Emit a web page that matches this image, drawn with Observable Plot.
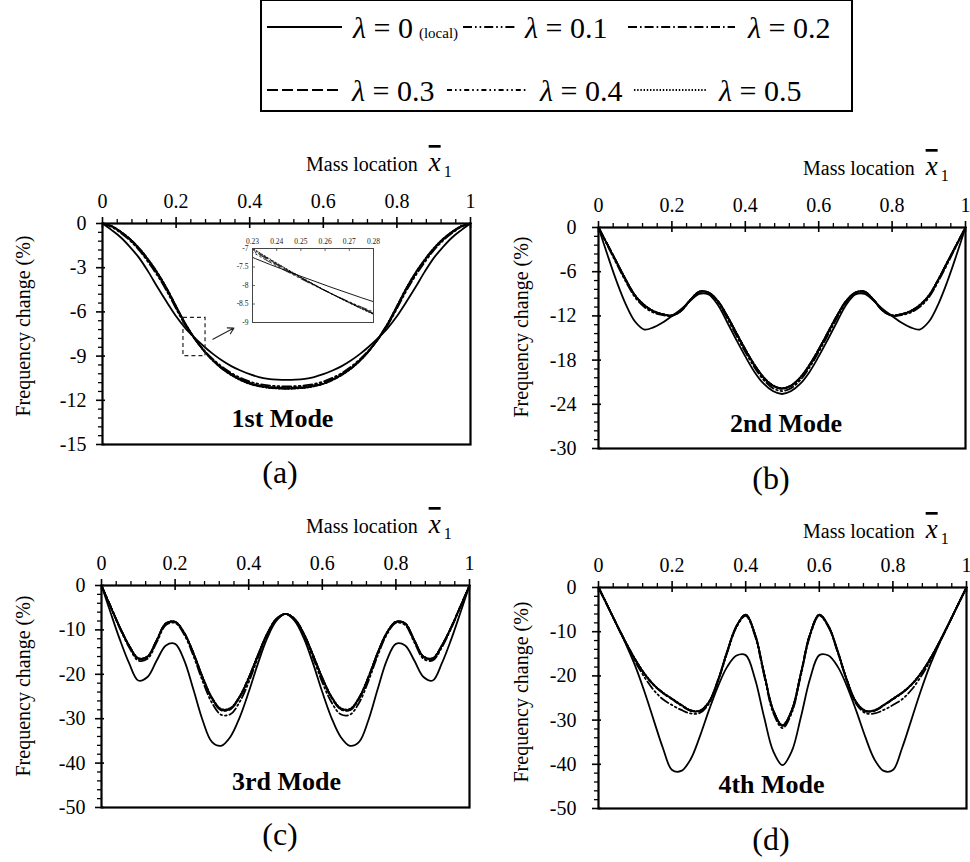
<!DOCTYPE html>
<html>
<head>
<meta charset="utf-8">
<script src="https://cdn.jsdelivr.net/npm/d3@7"></script>
<script src="https://cdn.jsdelivr.net/npm/@observablehq/plot@0.6"></script>
<style>
  html, body { margin: 0; padding: 0; background: #fff; }
  #root { position: relative; width: 970px; height: 862px; overflow: hidden; background: #fff; color: #000; }
  #root svg { position: absolute; }
</style>
</head>
<body>
<div id="root"></div>
<script>
// Non-dimensional mass location along the beam
const massLocation = [0, 0.025, 0.05, 0.075, 0.1, 0.125, 0.15, 0.175, 0.2, 0.225, 0.25, 0.275, 0.3, 0.325, 0.35, 0.375, 0.4, 0.425, 0.45, 0.475, 0.5, 0.525, 0.55, 0.575, 0.6, 0.625, 0.65, 0.675, 0.7, 0.725, 0.75, 0.775, 0.8, 0.825, 0.85, 0.875, 0.9, 0.925, 0.95, 0.975, 1];

// Nonlocal parameter values of the series (0 = local theory)
const lambdaValues = ["0", "0.1", "0.2", "0.3", "0.4", "0.5"];

// Frequency change (%) — 1st mode
const mode1Local = [0, -0.45, -0.95, -1.6, -2.35, -3.3, -4.35, -5.35, -6.3, -7.1, -7.75, -8.33, -8.85, -9.3, -9.68, -9.98, -10.23, -10.42, -10.54, -10.6, -10.62, -10.6, -10.54, -10.42, -10.23, -9.98, -9.68, -9.3, -8.85, -8.33, -7.75, -7.1, -6.3, -5.35, -4.35, -3.3, -2.35, -1.6, -0.95, -0.45, 0];
const mode1L01 = [0, -0.23, -0.65, -1.17, -1.83, -2.65, -3.56, -4.6, -5.78, -6.9, -7.82, -8.58, -9.2, -9.73, -10.15, -10.48, -10.73, -10.89, -10.99, -11.04, -11.06, -11.04, -10.99, -10.89, -10.73, -10.48, -10.15, -9.73, -9.2, -8.58, -7.82, -6.9, -5.78, -4.6, -3.56, -2.65, -1.83, -1.17, -0.65, -0.23, 0];
const mode1L02 = [0, -0.2, -0.6, -1.1, -1.75, -2.55, -3.45, -4.5, -5.7, -6.85, -7.8, -8.6, -9.25, -9.8, -10.22, -10.56, -10.82, -10.98, -11.08, -11.13, -11.15, -11.13, -11.08, -10.98, -10.82, -10.56, -10.22, -9.8, -9.25, -8.6, -7.8, -6.85, -5.7, -4.5, -3.45, -2.55, -1.75, -1.1, -0.6, -0.2, 0];
const mode1L03 = [0, -0.19, -0.58, -1.08, -1.72, -2.51, -3.41, -4.46, -5.66, -6.82, -7.79, -8.61, -9.28, -9.83, -10.25, -10.59, -10.85, -11.01, -11.11, -11.16, -11.18, -11.16, -11.11, -11.01, -10.85, -10.59, -10.25, -9.83, -9.28, -8.61, -7.79, -6.82, -5.66, -4.46, -3.41, -2.51, -1.72, -1.08, -0.58, -0.19, 0];
const mode1L04 = [0, -0.18, -0.57, -1.06, -1.7, -2.48, -3.38, -4.43, -5.63, -6.8, -7.78, -8.62, -9.3, -9.85, -10.27, -10.61, -10.87, -11.03, -11.13, -11.18, -11.2, -11.18, -11.13, -11.03, -10.87, -10.61, -10.27, -9.85, -9.3, -8.62, -7.78, -6.8, -5.63, -4.43, -3.38, -2.48, -1.7, -1.06, -0.57, -0.18, 0];
const mode1L05 = [0, -0.18, -0.56, -1.05, -1.68, -2.46, -3.36, -4.41, -5.61, -6.78, -7.77, -8.63, -9.31, -9.86, -10.29, -10.63, -10.89, -11.05, -11.15, -11.2, -11.22, -11.2, -11.15, -11.05, -10.89, -10.63, -10.29, -9.86, -9.31, -8.63, -7.77, -6.78, -5.61, -4.41, -3.36, -2.46, -1.68, -1.05, -0.56, -0.18, 0];

// Frequency change (%) — 2nd mode
const mode2Local = [0, -3.8, -7.4, -10.5, -12.8, -13.85, -13.55, -12.9, -12.0, -11.1, -9.95, -9.0, -9.1, -10.5, -12.8, -15.2, -17.5, -19.6, -21.2, -22.2, -22.6, -22.2, -21.2, -19.6, -17.5, -15.2, -12.8, -10.5, -9.1, -9.0, -9.95, -11.1, -12.0, -12.9, -13.55, -13.85, -12.8, -10.5, -7.4, -3.8, 0];
const mode2L01 = [0, -2.5, -5.0, -7.4, -9.5, -10.8, -11.55, -11.9, -12.0, -11.35, -9.9, -8.78, -8.9, -10.15, -12.25, -14.6, -16.9, -19.0, -20.7, -21.8, -22.2, -21.8, -20.7, -19.0, -16.9, -14.6, -12.25, -10.15, -8.9, -8.78, -9.9, -11.35, -12.0, -11.9, -11.55, -10.8, -9.5, -7.4, -5.0, -2.5, 0];
const mode2L02 = [0, -2.4, -4.8, -7.2, -9.3, -10.6, -11.4, -11.8, -11.95, -11.3, -9.85, -8.72, -8.85, -10.0, -12.0, -14.3, -16.6, -18.7, -20.4, -21.5, -21.9, -21.5, -20.4, -18.7, -16.6, -14.3, -12.0, -10.0, -8.85, -8.72, -9.85, -11.3, -11.95, -11.8, -11.4, -10.6, -9.3, -7.2, -4.8, -2.4, 0];
const mode2L03 = [0, -2.38, -4.77, -7.17, -9.27, -10.57, -11.37, -11.78, -11.94, -11.29, -9.84, -8.71, -8.84, -9.98, -11.97, -14.27, -16.57, -18.67, -20.37, -21.47, -21.87, -21.47, -20.37, -18.67, -16.57, -14.27, -11.97, -9.98, -8.84, -8.71, -9.84, -11.29, -11.94, -11.78, -11.37, -10.57, -9.27, -7.17, -4.77, -2.38, 0];
const mode2L04 = [0, -2.36, -4.74, -7.14, -9.24, -10.54, -11.35, -11.76, -11.93, -11.28, -9.83, -8.7, -8.83, -9.96, -11.94, -14.24, -16.54, -18.64, -20.34, -21.44, -21.84, -21.44, -20.34, -18.64, -16.54, -14.24, -11.94, -9.96, -8.83, -8.7, -9.83, -11.28, -11.93, -11.76, -11.35, -10.54, -9.24, -7.14, -4.74, -2.36, 0];
const mode2L05 = [0, -2.34, -4.71, -7.11, -9.21, -10.51, -11.33, -11.75, -11.92, -11.27, -9.82, -8.69, -8.82, -9.94, -11.91, -14.21, -16.51, -18.61, -20.31, -21.41, -21.81, -21.41, -20.31, -18.61, -16.51, -14.21, -11.91, -9.94, -8.82, -8.69, -9.82, -11.27, -11.92, -11.75, -11.33, -10.51, -9.21, -7.11, -4.71, -2.34, 0];

// Frequency change (%) — 3rd mode
const mode3Local = [0, -6.2, -12.2, -17.5, -21.4, -20.6, -16.9, -13.5, -13.15, -16.9, -23.5, -30.4, -35.2, -36.1, -34.1, -29.8, -24.0, -17.6, -11.9, -8.0, -6.4, -8.0, -11.9, -17.6, -24.0, -29.8, -34.1, -36.1, -35.2, -30.4, -23.5, -16.9, -13.15, -13.5, -16.9, -20.6, -21.4, -17.5, -12.2, -6.2, 0];
const mode3L01 = [0, -4.9, -9.7, -13.9, -16.9, -16.5, -12.8, -8.9, -8.45, -11.1, -15.9, -21.6, -26.4, -29.1, -29.0, -26.3, -21.8, -16.3, -11.3, -7.7, -6.4, -7.7, -11.3, -16.3, -21.8, -26.3, -29.0, -29.1, -26.4, -21.6, -15.9, -11.1, -8.45, -8.9, -12.8, -16.5, -16.9, -13.9, -9.7, -4.9, 0];
const mode3L02 = [0, -4.8, -9.5, -13.6, -16.5, -16.1, -12.4, -8.6, -8.24, -10.8, -15.4, -20.9, -25.5, -28.1, -27.9, -25.3, -21.0, -15.8, -11.0, -7.6, -6.4, -7.6, -11.0, -15.8, -21.0, -25.3, -27.9, -28.1, -25.5, -20.9, -15.4, -10.8, -8.24, -8.6, -12.4, -16.1, -16.5, -13.6, -9.5, -4.8, 0];
const mode3L03 = [0, -4.78, -9.45, -13.55, -16.45, -16.05, -12.35, -8.57, -8.2, -10.75, -15.3, -20.8, -25.4, -28.0, -27.8, -25.2, -20.9, -15.75, -10.95, -7.58, -6.4, -7.58, -10.95, -15.75, -20.9, -25.2, -27.8, -28.0, -25.4, -20.8, -15.3, -10.75, -8.2, -8.57, -12.35, -16.05, -16.45, -13.55, -9.45, -4.78, 0];
const mode3L04 = [0, -4.76, -9.42, -13.5, -16.4, -16.0, -12.3, -8.54, -8.17, -10.7, -15.25, -20.7, -25.3, -27.9, -27.7, -25.1, -20.8, -15.7, -10.9, -7.56, -6.4, -7.56, -10.9, -15.7, -20.8, -25.1, -27.7, -27.9, -25.3, -20.7, -15.25, -10.7, -8.17, -8.54, -12.3, -16.0, -16.4, -13.5, -9.42, -4.76, 0];
const mode3L05 = [0, -4.74, -9.4, -13.45, -16.35, -15.95, -12.25, -8.5, -8.14, -10.65, -15.2, -20.6, -25.2, -27.8, -27.6, -25.0, -20.7, -15.65, -10.85, -7.54, -6.4, -7.54, -10.85, -15.65, -20.7, -25.0, -27.6, -27.8, -25.2, -20.6, -15.2, -10.65, -8.14, -8.5, -12.25, -15.95, -16.35, -13.45, -9.4, -4.74, 0];

// Frequency change (%) — 4th mode
const mode4Local = [0, -4.2, -8.5, -12.9, -17.8, -23.6, -30.0, -36.3, -41.3, -41.5, -38.9, -33.8, -27.8, -22.3, -17.9, -15.4, -15.3, -20.6, -29.3, -37.1, -40.2, -37.1, -29.3, -20.6, -15.3, -15.4, -17.9, -22.3, -27.8, -33.8, -38.9, -41.5, -41.3, -36.3, -30.0, -23.6, -17.8, -12.9, -8.5, -4.2, 0];
const mode4L01 = [0, -4.25, -8.6, -12.8, -16.8, -20.3, -23.2, -25.3, -26.6, -27.7, -28.5, -28.4, -26.3, -21.2, -14.7, -9.0, -6.4, -10.9, -19.9, -28.4, -31.8, -28.4, -19.9, -10.9, -6.4, -9.0, -14.7, -21.2, -26.3, -28.4, -28.5, -27.7, -26.6, -25.3, -23.2, -20.3, -16.8, -12.8, -8.6, -4.25, 0];
const mode4L02 = [0, -4.2, -8.5, -12.6, -16.4, -19.6, -22.1, -23.9, -25.3, -26.7, -27.9, -28.0, -26.0, -21.0, -14.5, -8.8, -6.2, -10.6, -19.5, -27.9, -31.3, -27.9, -19.5, -10.6, -6.2, -8.8, -14.5, -21.0, -26.0, -28.0, -27.9, -26.7, -25.3, -23.9, -22.1, -19.6, -16.4, -12.6, -8.5, -4.2, 0];
const mode4L03 = [0, -4.2, -8.48, -12.57, -16.35, -19.55, -22.05, -23.85, -25.25, -26.65, -27.85, -27.95, -25.95, -20.95, -14.45, -8.77, -6.18, -10.55, -19.45, -27.85, -31.25, -27.85, -19.45, -10.55, -6.18, -8.77, -14.45, -20.95, -25.95, -27.95, -27.85, -26.65, -25.25, -23.85, -22.05, -19.55, -16.35, -12.57, -8.48, -4.2, 0];
const mode4L04 = [0, -4.19, -8.46, -12.54, -16.3, -19.5, -22.0, -23.8, -25.2, -26.6, -27.8, -27.9, -25.9, -20.9, -14.4, -8.74, -6.16, -10.5, -19.4, -27.8, -31.2, -27.8, -19.4, -10.5, -6.16, -8.74, -14.4, -20.9, -25.9, -27.9, -27.8, -26.6, -25.2, -23.8, -22.0, -19.5, -16.3, -12.54, -8.46, -4.19, 0];
const mode4L05 = [0, -4.18, -8.44, -12.5, -16.25, -19.45, -21.95, -23.75, -25.15, -26.55, -27.75, -27.85, -25.85, -20.85, -14.35, -8.7, -6.14, -10.45, -19.35, -27.75, -31.15, -27.75, -19.35, -10.45, -6.14, -8.7, -14.35, -20.85, -25.85, -27.85, -27.75, -26.55, -25.15, -23.75, -21.95, -19.45, -16.25, -12.5, -8.44, -4.18, 0];

// Axis ticks
const xTicks = [0, 0.2, 0.4, 0.6, 0.8, 1];
const yTicks1 = [0, -3, -6, -9, -12, -15];
const yTicks2 = [0, -6, -12, -18, -24, -30];
const yTicks34 = [0, -10, -20, -30, -40, -50];
const insetXTicks = [0.23, 0.24, 0.25, 0.26, 0.27, 0.28];
const insetYTicks = [-7, -7.5, -8, -8.5, -9];

// Zoom window marked on the 1st-mode panel and its pointer
const zoomWindow = [{x1: 0.22, x2: 0.28, y1: -6.4, y2: -9.0}];
const zoomPointer = [{x1: 0.3, y1: -7.85, x2: 0.357, y2: -7.1}];

// Line pattern for each λ (solid for local)
const dashes = [null, "9,3,1.6,3,1.6,3", "9,3,1.6,3", "11,4", "5,3,1.6,3,1.6,3", "1.4,1.8"];

// Pick the first installed Times-like serif face (measured against generic fallbacks)
function pickSerif() {
  const ctx = document.createElement("canvas").getContext("2d");
  const sample = "Mass location Frequency change 0123456789 (%)";
  const width = f => { ctx.font = f; return ctx.measureText(sample).width; };
  const refMono = width("40px monospace"), refSans = width("40px sans-serif");
  const candidates = ["Liberation Serif", "Tinos", "Times New Roman", "Nimbus Roman", "Nimbus Roman No9 L",
                      "Times", "DejaVu Serif", "Noto Serif", "FreeSerif", "Source Serif Pro"];
  for (const c of candidates) {
    const a = width(`40px "${c}", monospace`), b = width(`40px "${c}", sans-serif`);
    if (Math.abs(a - refMono) > 0.5 && Math.abs(b - refSans) > 0.5) return `"${c}", serif`;
  }
  return "serif";
}
const FONT = pickSerif();
const root = document.getElementById("root");
root.style.fontFamily = FONT;
const fmt = d => String(d);

function place(svg, left, top) {
  svg.style.left = left + "px";
  svg.style.top = top + "px";
  root.appendChild(svg);
}

function seriesMarks(series, widths, curve) {
  const marks = [];
  // nonlocal curves first, the local one on top
  for (let i = series.length - 1; i >= 0; i--) {
    const rows = massLocation.map((x, j) => ({x, y: series[i][j]}));
    marks.push(Plot.line(rows, {
      x: "x", y: "y", stroke: "#000", strokeWidth: widths[i === 0 ? 0 : 1],
      strokeDasharray: dashes[i], curve
    }));
  }
  return marks;
}

function panel(cfg) {
  const {left, top, width, height, m, yDomain, yTicks, yMinorStep, series, mode, modeDx, modeDy,
         labelPad, extra = []} = cfg;
  const fw = width - m[1] - m[3], fh = height - m[0] - m[2];
  const xMinor = d3.range(0.04, 1, 0.04).filter(v => Math.abs(v / 0.2 - Math.round(v / 0.2)) > 1e-6);
  const yMinor = d3.range(yDomain[0] + yMinorStep, 0, yMinorStep)
    .filter(v => !yTicks.some(t => Math.abs(t - v) < 1e-6));
  const svg = Plot.plot({
    width, height,
    marginTop: m[0], marginRight: m[1], marginBottom: m[2], marginLeft: m[3],
    x: {domain: [0, 1]},
    y: {domain: yDomain},
    style: {fontFamily: FONT, fontSize: "20px", background: "transparent", overflow: "visible", color: "#000"},
    marks: [
      ...seriesMarks(series, [1.8, 1.8], "catmull-rom"),
      ...extra,
      Plot.frame({stroke: "#000", strokeWidth: 2.2}),
      // major ticks cross the frame, minor ticks sit outside
      Plot.tickX(xTicks, {insetTop: -6, insetBottom: fh - 5, stroke: "#000", strokeWidth: 1.6}),
      Plot.tickX(xMinor, {insetTop: -4, insetBottom: fh - 1, stroke: "#000", strokeWidth: 1.3}),
      Plot.tickY(yTicks, {insetLeft: -6, insetRight: fw - 3, stroke: "#000", strokeWidth: 1.6}),
      Plot.tickY(yMinor, {insetLeft: -4, insetRight: fw - 1, stroke: "#000", strokeWidth: 1.3}),
      Plot.axisX({anchor: "top", ticks: xTicks, tickSize: 0, tickPadding: 16, tickFormat: fmt, fontSize: 20, fill: "#000", label: null}),
      Plot.axisY({anchor: "left", ticks: yTicks, tickSize: 0, tickPadding: labelPad, tickFormat: fmt, fontSize: 20, fill: "#000", label: null}),
      Plot.text([mode], {frameAnchor: "bottom", lineAnchor: "bottom", dx: modeDx, dy: modeDy, fontSize: 26, fontWeight: "bold", fill: "#000"})
    ]
  });
  place(svg, left, top);
}

panel({
  left: 0, top: 150, width: 485, height: 305, m: [73, 15, 11, 102],
  yDomain: [-15, 0], yTicks: yTicks1, yMinorStep: 0.6,
  series: [mode1Local, mode1L01, mode1L02, mode1L03, mode1L04, mode1L05],
  mode: "1st Mode", modeDx: -4, modeDy: -18, labelPad: 16,
  extra: [
    Plot.rect(zoomWindow, {x1: "x1", x2: "x2", y1: "y1", y2: "y2", fill: "none", stroke: "#222", strokeWidth: 1.2, strokeDasharray: "4,3"}),
    Plot.arrow(zoomPointer, {x1: "x1", y1: "y1", x2: "x2", y2: "y2", stroke: "#222", strokeWidth: 1.1, headLength: 9})
  ]
});
panel({
  left: 490, top: 150, width: 480, height: 305, m: [77, 5, 7, 108],
  yDomain: [-30, 0], yTicks: yTicks2, yMinorStep: 1.2,
  series: [mode2Local, mode2L01, mode2L02, mode2L03, mode2L04, mode2L05],
  mode: "2nd Mode", modeDx: 4, modeDy: -17, labelPad: 22
});
panel({
  left: 0, top: 510, width: 485, height: 305, m: [75, 16, 8, 101],
  yDomain: [-50, 0], yTicks: yTicks34, yMinorStep: 2,
  series: [mode3Local, mode3L01, mode3L02, mode3L03, mode3L04, mode3L05],
  mode: "3rd Mode", modeDx: 1, modeDy: -18, labelPad: 16
});
panel({
  left: 490, top: 510, width: 480, height: 305, m: [77, 4, 7, 108],
  yDomain: [-50, 0], yTicks: yTicks34, yMinorStep: 2,
  series: [mode4Local, mode4L01, mode4L02, mode4L03, mode4L04, mode4L05],
  mode: "4th Mode", modeDx: -11, modeDy: -16, labelPad: 22
});

// Close-up of the 1st mode around x = 0.23–0.28
{
  const m = [15, 3, 3, 24];
  const svg = Plot.plot({
    width: 148, height: 92,
    marginTop: m[0], marginRight: m[1], marginBottom: m[2], marginLeft: m[3],
    x: {domain: [0.23, 0.28]},
    y: {domain: [-9, -7]},
    clip: true,
    style: {fontFamily: FONT, fontSize: "8px", background: "#fff", overflow: "visible", color: "#222"},
    marks: [
      ...seriesMarks([mode1Local, mode1L01, mode1L02, mode1L03, mode1L04, mode1L05], [0.9, 0.8], "catmull-rom"),
      Plot.frame({stroke: "#444", strokeWidth: 1}),
      Plot.tickX(insetXTicks, {insetTop: 0, insetBottom: 71, stroke: "#444", strokeWidth: 0.8}),
      Plot.tickY(insetYTicks, {insetLeft: 0, insetRight: 118, stroke: "#444", strokeWidth: 0.8}),
      Plot.axisX({anchor: "top", ticks: insetXTicks, tickSize: 0, tickPadding: 5, tickFormat: fmt, fontSize: 7.5, fill: "#222", label: null}),
      Plot.axisY({anchor: "left", ticks: insetYTicks, tickSize: 0, tickPadding: 4, tickFormat: fmt, fontSize: 7.5, fill: "#222", label: null})
    ]
  });
  place(svg, 228, 233);
}

// Overlay: legend, axis titles and panel letters
const ov = d3.select(root).append("svg")
  .attr("width", 970).attr("height", 862)
  .style("left", "0px").style("top", "0px").style("pointer-events", "none")
  .style("font-family", FONT);

function massLabel(x, baseline) {
  const t = ov.append("text").attr("x", x).attr("y", baseline).attr("font-size", 20).attr("fill", "#000");
  t.append("tspan").text("Mass location");
  t.append("tspan").attr("dx", 11).attr("font-style", "italic").attr("font-size", 27)
    .style("text-decoration", "overline").text("x");
  t.append("tspan").attr("dx", 3).attr("dy", 6).attr("font-size", 16).text("1");
}
massLabel(306, 171);
massLabel(803, 175);
massLabel(306, 533);
massLabel(803, 538);

[[23, 326], [521, 327], [23, 686], [521, 692]].forEach(([cx, cy]) => {
  ov.append("text").attr("transform", `translate(${cx},${cy}) rotate(-90)`)
    .attr("text-anchor", "middle").attr("dominant-baseline", "central")
    .attr("font-size", 20).attr("fill", "#000").text("Frequency change (%)");
});

[["(a)", 280, 483], ["(b)", 771, 489], ["(c)", 280, 845], ["(d)", 771, 850]].forEach(([s, x, y]) => {
  ov.append("text").attr("x", x).attr("y", y).attr("text-anchor", "middle")
    .attr("font-size", 32).attr("fill", "#000").text(s);
});

// legend
ov.append("rect").attr("x", 261).attr("y", 0).attr("width", 591).attr("height", 111)
  .attr("fill", "none").attr("stroke", "#000").attr("stroke-width", 2);

const legendItems = [
  {i: 0, row: 0, x0: 267, x1: 342, tx: 353},
  {i: 1, row: 0, x0: 463, x1: 515, tx: 525},
  {i: 2, row: 0, x0: 628, x1: 735, tx: 748},
  {i: 3, row: 1, x0: 267, x1: 342, tx: 352},
  {i: 4, row: 1, x0: 447, x1: 527, tx: 540},
  {i: 5, row: 1, x0: 634, x1: 706, tx: 719}
];
const rowLineY = [27, 90], rowBase = [38, 101];
legendItems.forEach(({i, row, x0, x1, tx}) => {
  ov.append("line").attr("x1", x0).attr("x2", x1).attr("y1", rowLineY[row]).attr("y2", rowLineY[row])
    .attr("stroke", "#000").attr("stroke-width", 2).attr("stroke-dasharray", dashes[i]);
  const t = ov.append("text").attr("x", tx).attr("y", rowBase[row]).attr("font-size", 30).attr("fill", "#000");
  t.append("tspan").attr("font-style", "italic").text("λ");
  t.append("tspan").text(" = " + lambdaValues[i]);
  if (i === 0) t.append("tspan").attr("dx", 6).attr("font-size", 15).text("(local)");
});
</script>
</body>
</html>
